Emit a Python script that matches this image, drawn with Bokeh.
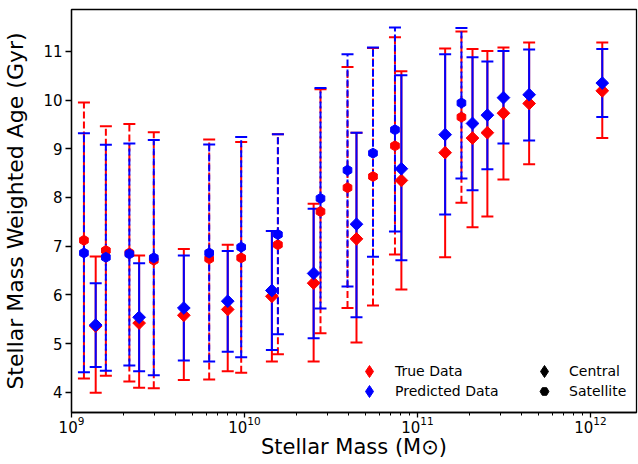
import numpy as np
from bokeh.plotting import figure
from bokeh.models import (ColumnDataSource, Range1d, FixedTicker, Legend, LegendItem)
from bokeh.embed import file_html
from bokeh.resources import INLINE

# ---- data ----
mass = [1.18e9, 1.38e9, 1.58e9, 2.16e9, 2.46e9, 2.99e9, 4.46e9, 6.25e9, 8.0e9, 9.57e9,
        1.44e10, 1.56e10, 2.51e10, 2.75e10, 3.94e10, 4.44e10, 5.53e10, 7.41e10, 8.07e10,
        1.445e11, 1.795e11, 2.08e11, 2.535e11, 3.14e11, 4.42e11, 1.17e12]
kind = ["S", "C", "S", "S", "C", "S", "C", "S", "C", "S",
        "C", "S", "C", "S", "S", "C", "S", "S", "C",
        "C", "S", "C", "C", "C", "C", "C"]
true_age = [7.12, 5.36, 6.91, 6.86, 5.42, 6.71, 5.58, 6.74, 5.70, 6.76,
            5.97, 7.03, 6.24, 7.71, 8.20, 7.15, 8.43, 9.06, 8.35,
            8.92, 9.65, 9.22, 9.33, 9.73, 9.93, 10.19]
true_lo = [4.28, 3.99, 4.34, 4.22, 4.09, 4.08, 4.25, 4.26, 4.43, 4.40,
           4.63, 4.78, 4.63, 5.21, 5.73, 5.02, 5.78, 6.83, 6.11,
           6.77, 7.89, 7.39, 7.61, 8.37, 8.68, 9.22]
true_hi = [9.95, 6.79, 9.46, 9.51, 6.81, 9.34, 6.94, 9.19, 7.03, 9.14,
           7.31, 9.30, 7.87, 10.22, 10.68, 9.33, 11.07, 11.29, 10.59,
           11.06, 11.41, 11.05, 11.01, 11.08, 11.18, 11.18]
pred_age = [6.86, 5.38, 6.77, 6.84, 5.54, 6.76, 5.73, 6.86, 5.87, 6.98,
            6.09, 7.24, 6.44, 7.98, 8.56, 7.45, 8.91, 9.39, 8.59,
            9.29, 9.94, 9.52, 9.69, 10.05, 10.11, 10.35]
pred_lo = [4.41, 4.52, 4.44, 4.55, 4.43, 4.35, 4.65, 4.63, 4.83, 4.72,
           4.87, 5.19, 5.11, 5.72, 6.17, 5.54, 6.78, 7.30, 6.71,
           7.65, 8.39, 8.15, 8.58, 9.11, 9.17, 9.65]
pred_hi = [9.32, 6.24, 9.08, 9.11, 6.65, 9.18, 6.81, 9.09, 6.90, 9.24,
           7.31, 9.30, 7.77, 10.25, 10.94, 9.33, 11.08, 11.49, 10.51,
           10.94, 11.48, 10.88, 10.79, 11.01, 11.04, 11.05]

y_ticks = [4, 5, 6, 7, 8, 9, 10, 11]
x_ticks = [1e9, 1e10, 1e11, 1e12]

RED = "#ff0000"
BLUE = "#0000ff"
FONT = "DejaVu Sans"


def subset(k, age, lo, hi):
    idx = [i for i, kk in enumerate(kind) if kk == k]
    return ColumnDataSource(dict(
        x=[mass[i] for i in idx],
        age=[age[i] for i in idx],
        lo=[lo[i] for i in idx],
        hi=[hi[i] for i in idx],
    ))


p = figure(width=638, height=464, x_axis_type="log",
           x_range=Range1d(1e9, 1.845e12), y_range=Range1d(3.584, 11.86),
           output_backend="svg", toolbar_location=None,
           min_border_left=70, min_border_right=2, min_border_top=9, min_border_bottom=52)
p.grid.visible = False
p.outline_line_color = "black"
p.outline_line_width = 1.3
p.background_fill_color = "white"
p.border_fill_color = "white"

src = {}
for color, (age, lo, hi) in (("red", (true_age, true_lo, true_hi)),
                             ("blue", (pred_age, pred_lo, pred_hi))):
    for k in ("S", "C"):
        src[(color, k)] = subset(k, age, lo, hi)

# error bars (red first, blue above)
for color, col in (("red", RED), ("blue", BLUE)):
    for k in ("S", "C"):
        s = src[(color, k)]
        dash = "7 3" if k == "S" else "solid"
        p.segment(x0="x", y0="lo", x1="x", y1="hi", source=s,
                  line_color=col, line_width=2, line_dash=dash)
        p.scatter(x="x", y="lo", source=s, marker="dash", size=12,
                  line_color=col, line_width=2)
        p.scatter(x="x", y="hi", source=s, marker="dash", size=12,
                  line_color=col, line_width=2)

for color, col in (("red", RED), ("blue", BLUE)):
    p.scatter(x="x", y="age", source=src[(color, "C")],
              marker="square", angle=np.pi / 4, size=9,
              fill_color=col, line_color=col)
    p.scatter(x="x", y="age", source=src[(color, "S")],
              marker="hex", angle=np.pi / 6, size=10,
              fill_color=col, line_color=col)

# legend-only renderers (no visible data)
nan_src = ColumnDataSource(dict(x=[np.nan], y=[np.nan]))
def dummy(marker, col):
    return p.scatter(x="x", y="y", source=nan_src, marker=marker,
                     fill_color=col, line_color=col)

def make_legend(label, rend, loc, glyph, standoff):
    lg = Legend(items=[LegendItem(label=label, renderers=[rend])], location=loc,
                border_line_color=None, background_fill_alpha=0, padding=0, margin=0,
                spacing=0, glyph_width=glyph, glyph_height=glyph,
                label_standoff=standoff, label_height=glyph,
                label_text_font=FONT, label_text_font_size="14px",
                label_text_color="black")
    p.add_layout(lg, "center")

make_legend("True Data", dummy("diamond", RED), (283, 26), 30, 11)
make_legend("Predicted Data", dummy("diamond", BLUE), (283, 6), 30, 11)
make_legend("Central", dummy("diamond", "black"), (458, 26), 30, 10)
make_legend("Satellite", dummy("hex", "black"), (462, 10), 22, 14)

# axes
p.xaxis.ticker = FixedTicker(ticks=x_ticks,
                             minor_ticks=[m * t for t in x_ticks for m in range(2, 10)])
p.yaxis.ticker = FixedTicker(ticks=y_ticks)
for ax in (p.xaxis[0], p.yaxis[0]):
    ax.axis_line_color = "black"
    ax.axis_line_width = 1.3
    ax.major_tick_line_color = "black"
    ax.major_tick_line_width = 1.3
    ax.minor_tick_line_color = "black"
    ax.major_tick_in = 0
    ax.minor_tick_out = 3
    ax.minor_tick_in = 0
    ax.major_label_text_font = FONT
    ax.major_label_text_font_size = "15px"
    ax.major_label_text_color = "black"
    ax.axis_label_text_font = FONT
    ax.axis_label_text_font_style = "normal"
    ax.axis_label_text_color = "black"
p.xaxis.major_tick_out = 5
p.xaxis.major_label_standoff = -2
p.yaxis.major_tick_out = 6
p.yaxis.major_label_standoff = 3
p.yaxis.minor_tick_line_color = None
p.yaxis.axis_label = "Stellar Mass Weighted Age (Gyr)"
p.yaxis.axis_label_text_font_size = "22px"
p.yaxis.axis_label_standoff = 12
p.xaxis.axis_label = "Stellar Mass (M\u2299)"
p.xaxis.axis_label_text_font_size = "21px"
p.xaxis.axis_label_standoff = -1

open("out.html", "w").write(file_html(p, INLINE))
